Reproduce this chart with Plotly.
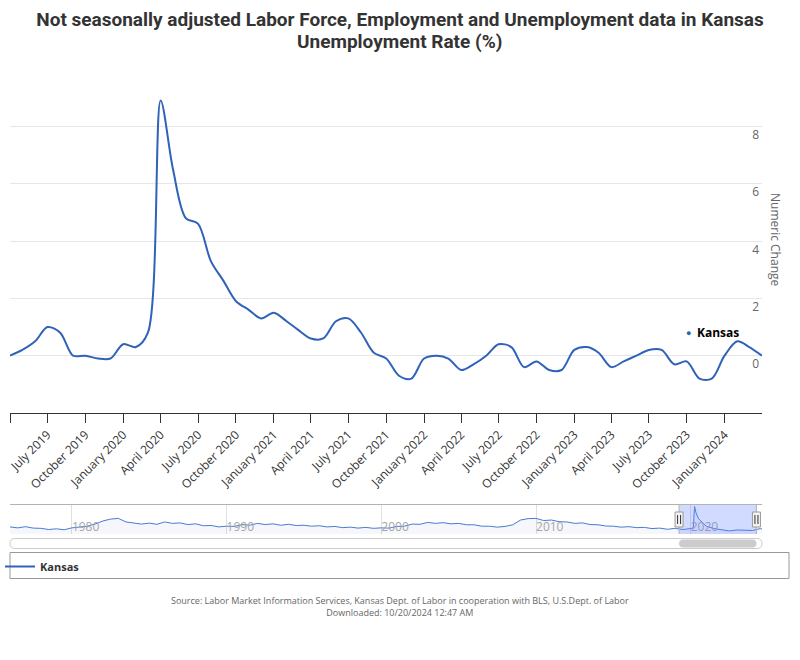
import plotly.graph_objects as go
import pandas as pd

# ---------------- data ----------------
months = pd.date_range("2019-04-01", "2024-04-01", freq="MS")
kansas_change = [
    0.0, 0.2, 0.5, 1.0, 0.8, 0.0, 0.0, -0.1, -0.1,                # Apr-Dec 2019
    0.4, 0.3, 0.8, 8.9, 6.5, 4.8, 4.6, 3.3, 2.6, 1.9, 1.6, 1.3,   # 2020
    1.5, 1.2, 0.9, 0.6, 0.6, 1.2, 1.3, 0.8, 0.1, -0.1, -0.7, -0.8,  # 2021
    -0.1, 0.0, -0.1, -0.5, -0.3, 0.0, 0.4, 0.3, -0.4, -0.2, -0.5, -0.5,  # 2022
    0.2, 0.3, 0.1, -0.4, -0.2, 0.0, 0.2, 0.2, -0.3, -0.2, -0.8, -0.8,  # 2023
    0.0, 0.5, 0.3, 0.0,                                            # Jan-Apr 2024
]

nav_dates = [
    "1976-01", "1976-07", "1977-01", "1977-07", "1978-01", "1978-07", "1979-01", "1979-07",
    "1980-01", "1980-07", "1981-01", "1981-07", "1982-01", "1982-07", "1983-01", "1983-07",
    "1984-01", "1984-07", "1985-01", "1985-07", "1986-01", "1986-07", "1987-01", "1987-07",
    "1988-01", "1988-07", "1989-01", "1989-07", "1990-01", "1990-07", "1991-01", "1991-07",
    "1992-01", "1992-07", "1993-01", "1993-07", "1994-01", "1994-07", "1995-01", "1995-07",
    "1996-01", "1996-07", "1997-01", "1997-07", "1998-01", "1998-07", "1999-01", "1999-07",
    "2000-01", "2000-07", "2001-01", "2001-07", "2002-01", "2002-07", "2003-01", "2003-07",
    "2004-01", "2004-07", "2005-01", "2005-07", "2006-01", "2006-07", "2007-01", "2007-07",
    "2008-01", "2008-07", "2009-01", "2009-07", "2010-01", "2010-07", "2011-01", "2011-07",
    "2012-01", "2012-07", "2013-01", "2013-07", "2014-01", "2014-07", "2015-01", "2015-07",
    "2016-01", "2016-07", "2017-01", "2017-07", "2018-01", "2018-07", "2019-01", "2019-07",
    "2020-01", "2020-03", "2020-04", "2020-05", "2020-07", "2021-01", "2021-07",
    "2022-01", "2022-07", "2023-01", "2023-07", "2024-01", "2024-07", "2024-09",
]
nav_rate = [
    4.3, 3.9, 4.4, 3.8, 3.7, 3.2, 3.5, 3.1,
    3.9, 4.4, 4.6, 5.5, 6.8, 7.6, 7.9, 6.4,
    6.0, 5.5, 5.9, 5.4, 6.4, 5.8, 6.0, 5.3,
    5.6, 4.8, 4.9, 4.3, 4.6, 4.5, 5.3, 5.0,
    5.8, 5.3, 5.6, 5.0, 5.4, 4.9, 5.0, 4.6,
    4.8, 4.3, 4.5, 4.0, 4.2, 3.8, 4.1, 3.7,
    3.9, 3.8, 4.5, 4.6, 5.5, 5.4, 6.2, 5.8,
    6.1, 5.6, 5.8, 5.2, 5.2, 4.6, 4.6, 4.2,
    4.5, 5.2, 7.2, 7.8, 7.9, 7.0, 7.2, 6.5,
    6.4, 5.8, 6.0, 5.3, 5.2, 4.7, 4.6, 4.2,
    4.4, 4.0, 4.1, 3.6, 3.8, 3.3, 3.7, 3.2,
    3.6, 3.9, 12.9, 10.5, 7.8, 4.6, 3.6,
    3.0, 2.6, 3.0, 2.8, 2.8, 3.6, 3.3,
]

y_tick_vals = [-2, 0, 2, 4, 6, 8, 10]
y_tick_text = ["-2", "0", "2", "4", "6", "8", ""]
x_tick_dates = pd.date_range("2019-04-01", "2024-01-01", freq="3MS")
x_tick_text = [""] + [d.strftime("%B %Y") for d in x_tick_dates[1:]]
nav_years = ["1980", "1990", "2000", "2010", "2020"]

main_range = ["2019-04-01", "2024-04-01"]
nav_range = ["1976-01-01", "2024-08-10"]

title_line1 = "Not seasonally adjusted Labor Force, Employment and Unemployment data in Kansas"
title_line2 = "Unemployment Rate (%)"

# ---------------- layout helpers (pixel -> paper) ----------------
W, H = 800, 660
ML, MR = 10, 38
PW = W - ML - MR


def px(x):
    return (x - ML) / PW


def py(y):
    return (H - y) / H


def P(x, y):
    return f"{px(x):.5f},{py(y):.5f}"


def rounded(x0, y0, x1, y1, r):
    return (f"M{P(x0 + r, y0)} L{P(x1 - r, y0)} Q{P(x1, y0)} {P(x1, y0 + r)} "
            f"L{P(x1, y1 - r)} Q{P(x1, y1)} {P(x1 - r, y1)} L{P(x0 + r, y1)} "
            f"Q{P(x0, y1)} {P(x0, y1 - r)} L{P(x0, y0 + r)} Q{P(x0, y0)} {P(x0 + r, y0)} Z")


def nav_px(datestr):
    t0 = pd.Timestamp(nav_range[0])
    t1 = pd.Timestamp(nav_range[1])
    t = pd.Timestamp(datestr)
    return ML + (t - t0) / (t1 - t0) * PW


FONT = "Open Sans, Noto Sans, sans-serif"
TFONT = "Roboto, sans-serif"
LINE = "#2f62b8"

fig = go.Figure()

fig.add_trace(go.Scatter(
    x=months, y=kansas_change, mode="lines", name="Kansas",
    line=dict(color=LINE, width=2, shape="spline", smoothing=0.9),
    xaxis="x", yaxis="y", showlegend=True,
))

fig.add_trace(go.Scatter(
    x=pd.to_datetime(nav_dates), y=nav_rate, mode="lines", name="Kansas nav",
    line=dict(color="#4a7bd0", width=1), fill="tozeroy",
    fillcolor="rgba(51,102,204,0.05)",
    xaxis="x2", yaxis="y2", showlegend=False,
))

nav_top, nav_bot = 504.5, 534

fig.update_layout(
    width=W, height=H,
    margin=dict(l=ML, r=MR, t=0, b=0, autoexpand=False),
    paper_bgcolor="white", plot_bgcolor="white",
    font=dict(family=FONT, color="#333"),
    title=dict(
        text=title_line1,
        x=0.5, xref="container", xanchor="center",
        y=1 - 19 / H, yref="container", yanchor="middle",
        font=dict(family=TFONT, size=19, color="#333", weight="bold"),
    ),
    xaxis=dict(
        type="date", domain=[0, 1], range=main_range, anchor="y",
        tickvals=list(x_tick_dates), ticktext=x_tick_text, tickangle=-45,
        ticks="outside", ticklen=9, tickcolor="#333", tickwidth=1,
        showline=True, linecolor="#333", linewidth=1,
        showgrid=False, zeroline=False,
        tickfont=dict(size=12, color="#333", family=FONT),
        automargin=False,
    ),
    yaxis=dict(
        domain=[py(413), py(69)], range=[-2, 10], anchor="x", side="right",
        tickvals=y_tick_vals, ticktext=y_tick_text,
        ticklabelposition="inside bottom", ticks="",
        showgrid=True, gridcolor="#e6e6e6", gridwidth=1, zeroline=False,
        showline=False, tickfont=dict(size=12, color="#666", family=FONT),
        automargin=False,
    ),
    xaxis2=dict(
        type="date", domain=[0, 1], range=nav_range, anchor="y2",
        tickvals=[f"{y}-01-01" for y in nav_years], ticktext=nav_years,
        ticklabelposition="inside right", ticks="", ticklabelstandoff=-5,
        showgrid=True, gridcolor="#e0e0e0", zeroline=False, showline=False,
        tickfont=dict(size=12, color="#a6a6a6", family=FONT),
        automargin=False,
    ),
    yaxis2=dict(
        domain=[py(nav_bot), py(nav_top)], range=[1.31, 13.76], anchor="x2",
        visible=False, showgrid=False, zeroline=False,
    ),
    legend=dict(
        x=px(0), y=py(552), xanchor="left", yanchor="top",
        bgcolor="rgba(0,0,0,0)", borderwidth=0,
        font=dict(size=11, color="#333", family=FONT, weight="bold"),
        itemwidth=30,
    ),
    hovermode=False,
)

shapes = []
# navigator mask (selected range)
shapes.append(dict(type="rect", xref="x2", yref="paper", x0=main_range[0], x1=main_range[1],
                   y0=py(nav_bot), y1=py(nav_top), fillcolor="rgba(102,133,255,0.30)",
                   line=dict(width=0), layer="above"))
# navigator outline
shapes.append(dict(type="line", xref="paper", yref="paper", x0=0, x1=1, y0=py(nav_top), y1=py(nav_top),
                   line=dict(color="#b3b3b3", width=1)))
for d in main_range:
    shapes.append(dict(type="line", xref="x2", yref="paper", x0=d, x1=d,
                       y0=py(nav_bot), y1=py(nav_top), line=dict(color="#b3b3b3", width=1)))
# handles
for d in main_range:
    shapes.append(dict(type="rect", xref="x2", yref="paper", xsizemode="pixel", xanchor=d,
                       x0=-4, x1=4, y0=py(527), y1=py(512), fillcolor="#f2f2f2",
                       line=dict(color="#999", width=1), layer="above"))
    for off in (-1.5, 1.5):
        shapes.append(dict(type="line", xref="x2", yref="paper", xsizemode="pixel", xanchor=d,
                           x0=off, x1=off, y0=py(524), y1=py(515),
                           line=dict(color="#333", width=1), layer="above"))
# scrollbar
shapes.append(dict(type="path", xref="paper", yref="paper", path=rounded(10, 538.5, 762, 548.5, 5),
                   fillcolor="white", line=dict(color="#cccccc", width=1)))
shapes.append(dict(type="path", xref="paper", yref="paper",
                   path=rounded(nav_px(main_range[0]), 539.5, nav_px(main_range[1]), 547.5, 4),
                   fillcolor="#cccccc", line=dict(width=0)))
# legend box
shapes.append(dict(type="rect", xref="paper", yref="paper", x0=px(10), x1=px(789),
                   y0=py(578.5), y1=py(552.5), fillcolor="rgba(0,0,0,0)",
                   line=dict(color="#999", width=1)))
fig.update_layout(shapes=shapes)

annotations = [
    dict(text=f"<b>{title_line2}</b>", xref="paper", yref="paper", x=px(400), y=py(41),
         showarrow=False, font=dict(size=19, color="#333", family=TFONT),
         xanchor="center", yanchor="middle"),
    dict(text="Numeric Change", xref="paper", yref="paper", x=px(776), y=py(240),
         textangle=90, showarrow=False, font=dict(size=12, color="#666", family=FONT),
         xanchor="center", yanchor="middle"),
    dict(text="●", xref="paper", yref="paper", x=px(688), y=py(332), showarrow=False,
         font=dict(size=9, color=LINE, family=FONT), xanchor="center", yanchor="middle"),
    dict(text="<b>Kansas</b>", xref="paper", yref="paper", x=px(695), y=py(332), showarrow=False,
         font=dict(size=12, color="#000", family=FONT), xanchor="left", yanchor="middle"),
    dict(text="Source: Labor Market Information Services, Kansas Dept. of Labor in cooperation with BLS, U.S.Dept. of Labor<br>Downloaded: 10/20/2024 12:47 AM",
         xref="paper", yref="paper", x=px(400), y=py(606), showarrow=False,
         font=dict(size=9, color="#666", family=FONT), xanchor="center", yanchor="middle"),
]
fig.update_layout(annotations=annotations)

fig.write_html("out.html", config={"displayModeBar": False})
